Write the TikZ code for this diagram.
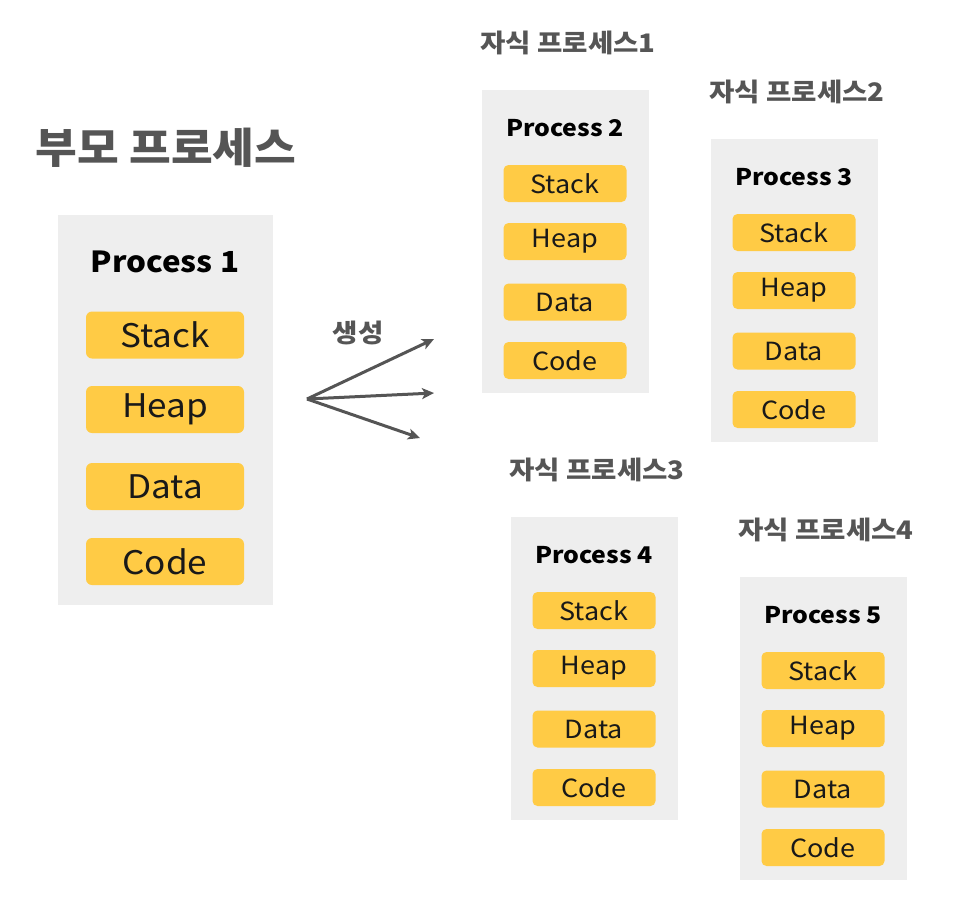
\documentclass[tikz,border=0pt]{standalone}
\usepackage{fontspec}
\setmainfont[FakeStretch=1.08]{Noto Sans CJK KR}
\usetikzlibrary{arrows.meta}
\definecolor{boxgray}{HTML}{EEEEEE}
\definecolor{segyellow}{HTML}{FFCB45}
\definecolor{labgray}{HTML}{555555}
\tikzset{
  procbox/.style={fill=boxgray,draw=none,anchor=north west,inner sep=0},
  bigseg/.style={fill=segyellow,rounded corners=6pt,minimum width=158pt,minimum height=47pt,inner sep=0,font=\fontsize{32.5}{36}\selectfont,text=black!90},
  smallseg/.style={fill=segyellow,rounded corners=5pt,minimum width=123pt,minimum height=37pt,inner sep=0,font=\fontsize{25}{28}\selectfont,text=black!90},
  bigtitle/.style={font=\bfseries\fontsize{29}{34}\selectfont,text=black},
  smalltitle/.style={font=\bfseries\fontsize{23}{27}\selectfont,text=black},
  klabel/.style={font=\bfseries\fontsize{25.5}{29}\selectfont,text=labgray},
  arr/.style={draw=labgray,line width=3pt,-{Stealth[length=12pt,width=11pt,inset=3pt]}}
}
\newcommand{\ChildProc}[5]{%
  \begin{scope}[shift={(#2,#3)}]
    \node[procbox,minimum width=167pt,minimum height=303pt] (#1box) at (0,0) {};
    \node[klabel] (#1lab) at (86,-47) {#4};
    \node[smalltitle] (#1title) at (83,38) {#5};
    \node[smallseg] (#1stack) at (83,93.5) {Stack};
    \node[smallseg] (#1heap) at (83,151.5) {Heap};
    \node[smallseg] (#1data) at (83,212) {Data};
    \node[smallseg] (#1code) at (83,270.5) {Code};
  \end{scope}}
\begin{document}
\begin{tikzpicture}[x=1pt,y=-1pt]
\useasboundingbox (0,0) rectangle (957,905);
% parent
\node[font=\bfseries\fontsize{42}{48}\selectfont,text=labgray] (ptitle) at (166,148) {부모 프로세스};
\node[procbox,minimum width=215pt,minimum height=390pt] (pbox) at (58,215) {};
\node[bigtitle] (p1title) at (165,262) {Process 1};
\node[bigseg] (pstack) at (165,335) {Stack};
\node[bigseg] (pheap) at (165,409.5) {Heap};
\node[bigseg] (pdata) at (165,486.5) {Data};
\node[bigseg] (pcode) at (165,561.5) {Code};
% arrows
\coordinate (src) at (307,399);
\coordinate (t1) at (434,339);
\coordinate (t2) at (434,393);
\coordinate (t3) at (420,438);
\node[klabel] (gen) at (358,333) {생성};
\draw[arr] (src) -- (t1);
\draw[arr] (src) -- (t2);
\draw[arr] (src) -- (t3);
% children
\ChildProc{c1}{482}{90}{자식 프로세스1}{Process 2}
\ChildProc{c2}{711}{139}{자식 프로세스2}{Process 3}
\ChildProc{c3}{511}{517}{자식 프로세스3}{Process 4}
\ChildProc{c4}{740}{577}{자식 프로세스4}{Process 5}
\end{tikzpicture}
\end{document}
